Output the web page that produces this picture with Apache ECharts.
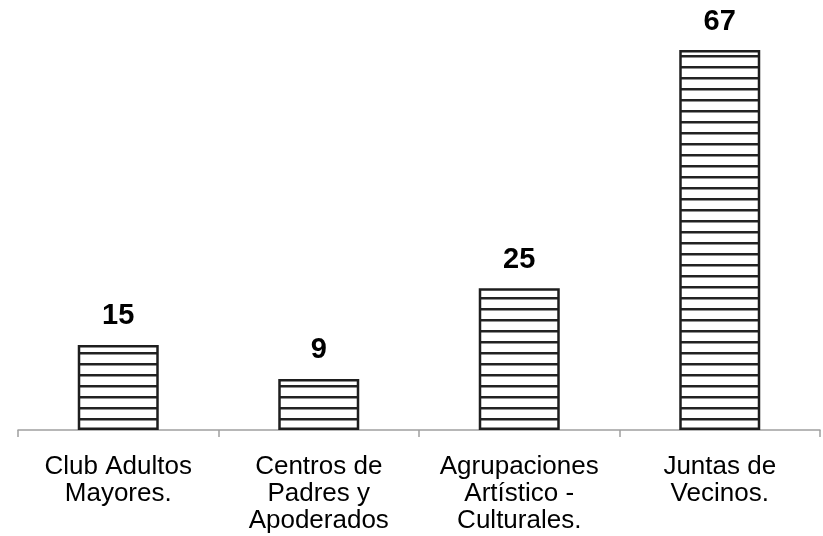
<!DOCTYPE html>
<html>
<head>
<meta charset="utf-8">
<script src="https://cdn.jsdelivr.net/npm/echarts@6/dist/echarts.min.js"></script>
<style>
html,body{margin:0;padding:0;background:#fff;}
#chart{width:823px;height:536px;}
</style>
</head>
<body>
<div id="chart"></div>
<script>
const categories = ["Club Adultos\nMayores.", "Centros de\nPadres y\nApoderados", "Agrupaciones\nArtístico -\nCulturales.", "Juntas de\nVecinos."];
const values = [15, 9, 25, 67];

const pc = document.createElement('canvas');
pc.width = 20; pc.height = 11;
const ctx = pc.getContext('2d');
ctx.fillStyle = '#ffffff';
ctx.fillRect(0, 0, 20, 11);
ctx.fillStyle = '#222222';
ctx.fillRect(0, 0, 20, 2.5);

const chart = echarts.init(document.getElementById('chart'), null, {renderer: 'canvas'});
chart.setOption({
  animation: false,
  backgroundColor: '#ffffff',
  grid: {left: 18, right: 3, top: 33, bottom: 106, containLabel: false},
  xAxis: {
    type: 'category',
    data: categories,
    axisLine: {lineStyle: {color: '#a0a0a0', width: 1.5}},
    axisTick: {show: true, length: 7, lineStyle: {color: '#a0a0a0', width: 1.5}},
    axisLabel: {
      color: '#000', fontFamily: 'Liberation Sans, Arial, sans-serif',
      fontSize: 26, lineHeight: 27, margin: 23, interval: 0
    }
  },
  yAxis: {type: 'value', min: 0, max: 70, show: false, splitLine: {show: false}},
  series: [{
    type: 'bar',
    data: values,
    barWidth: 81,
    itemStyle: {
      color: {image: pc, repeat: 'repeat'},
      borderColor: '#1e1e1e',
      borderWidth: 2.5
    },
    label: {
      show: true, position: 'top', distance: 14,
      color: '#000', fontWeight: 'bold', fontSize: 29,
      fontFamily: 'Liberation Sans, Arial, sans-serif'
    }
  }]
});
</script>
</body>
</html>
